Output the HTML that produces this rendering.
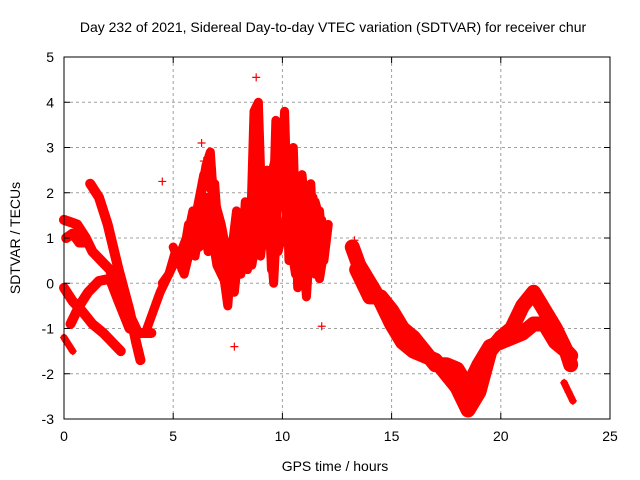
<!DOCTYPE html>
<html><head><meta charset="utf-8"><style>
body{margin:0;background:#fff}
svg{display:block;font-family:"Liberation Sans",sans-serif}
</style></head><body>
<svg id="chart" width="640" height="480" viewBox="0 0 640 480">
<rect width="640" height="480" fill="#fff"/>
<text x="333" y="32" font-size="14" text-anchor="middle">Day 232 of 2021, Sidereal Day-to-day VTEC variation (SDTVAR) for receiver chur</text>
<g id="grid"></g>
<g id="series"></g>
<rect x="64" y="57" width="546" height="362" fill="none" stroke="#000" stroke-width="1"/>
<g id="axes"></g>
<text transform="translate(20,238) rotate(-90)" font-size="14" text-anchor="middle">SDTVAR / TECUs</text>
<text x="335" y="471" font-size="14" text-anchor="middle">GPS time / hours</text>
</svg>
<script>
const xTicks=[0,5,10,15,20,25];
const yTicks=[-3,-2,-1,0,1,2,3,4,5];
const trackA_t=[0,0.3,0.6,1.0,1.3,1.7,2.1,2.5,3.0,3.3];
const trackA_v=[1.4,1.35,1.3,1.0,0.7,0.5,0.3,-0.2,-0.7,-1.0];
const trackB_t=[1.2,1.6,2.0,2.5,3.0,3.3,3.5];
const trackB_v=[2.2,1.9,1.3,0.3,-0.6,-1.3,-1.7];
const trackC_t=[0.3,0.7,1.1,1.6,2.1,2.5,3.0,3.5,4.0];
const trackC_v=[-0.9,-0.5,-0.2,0.05,0.1,-0.4,-1.0,-1.1,-1.1];
const trackD_t=[0,0.4,0.8,1.3,1.8,2.2,2.6];
const trackD_v=[-0.1,-0.4,-0.6,-0.9,-1.1,-1.3,-1.5];
const trackE_t=[0,0.2,0.4];
const trackE_v=[-1.2,-1.35,-1.5];
const trackF_t=[0.1,0.4,0.7,1.0];
const trackF_v=[1.0,1.1,0.9,0.9];
const midA_t=[3.8,4.1,4.4,4.7,5.0,5.3,5.6,5.9,6.1,6.3,6.5,6.7,6.9,7.1,7.3,7.5,7.7,7.9,8.1,8.3,8.5,8.7,8.9,9.1,9.3,9.5,9.7,9.9,10.1,10.3,10.5,10.7,10.9,11.1,11.3,11.5,11.7,11.9,12.1];
const midA_v=[-1.0,-0.6,-0.2,0.1,0.4,0.6,0.9,1.6,1.2,2.0,2.6,2.9,1.5,1.0,0.2,-0.5,0.8,1.6,0.2,1.8,0.5,3.8,4.0,1.0,2.5,0.3,3.6,2.0,3.8,0.5,3.0,-0.1,2.4,1.2,2.2,0.2,1.6,0.5,1.3];
const midB_t=[4.5,4.8,5.1,5.4,5.7,6.0,6.3,6.6,6.9,7.2,7.5,7.8,8.1,8.4,8.7,9.0,9.3,9.6,9.9,10.2,10.5,10.8,11.1,11.4,11.7,12.0];
const midB_v=[0.0,0.2,0.7,0.4,1.3,0.6,1.5,0.7,2.2,0.2,0.9,-0.2,1.2,0.3,2.7,0.6,1.9,0.0,2.9,1.5,0.8,1.7,-0.3,1.9,0.1,1.0];
const midC_t=[5.0,5.5,6.0,6.5,7.0,7.5,8.0,8.5,9.0,9.5,10.0,10.5,11.0,11.5,12.0];
const midC_v=[0.8,0.2,1.2,1.9,0.4,-0.1,0.5,1.2,2.3,1.4,2.8,1.5,0.6,1.8,0.9];
const midD_t=[5.2,5.6,6.0,6.4,6.8,7.2,7.6,8.0,8.4,8.8,9.2,9.6,10.0,10.4,10.8,11.2,11.6];
const midD_v=[0.5,1.0,1.4,2.4,2.0,1.3,0.3,0.9,0.6,3.2,1.8,2.6,3.3,2.2,1.6,1.4,0.8];
const midE_t=[5.4,5.8,6.2,6.6,7.0,7.4,7.8,8.2,8.6,9.0,9.4,9.8,10.2,10.6,11.0,11.4,11.8];
const midE_v=[0.3,0.7,0.8,1.2,1.0,0.0,0.6,0.5,0.4,1.5,0.8,0.7,1.5,0.2,1.0,0.4,1.4];
const rightA_t=[13.2,13.5,14.0,14.5,15.0,15.5,16.0,16.5,17.0,17.5,18.0,18.5,19.0,19.5,20.0,20.5,21.0,21.5,22.0,22.5,23.0,23.2];
const rightA_v=[0.8,0.4,0.0,-0.4,-0.9,-1.3,-1.5,-1.6,-1.7,-2.0,-2.3,-2.8,-2.4,-1.5,-1.2,-1.0,-0.5,-0.2,-0.6,-1.0,-1.5,-1.6];
const rightB_t=[13.4,14.0,14.5,15.0,15.5,16.0,16.5,17.0,17.5,18.0,18.5,19.0,19.5,20.0,20.5,21.0,21.5,22.0,22.5,23.0,23.2];
const rightB_v=[0.3,-0.3,-0.3,-0.6,-1.0,-1.2,-1.5,-1.8,-1.8,-1.9,-2.3,-1.8,-1.4,-1.3,-1.2,-1.1,-0.9,-0.9,-1.3,-1.5,-1.8];
const rightC_t=[22.9,23.1,23.3];
const rightC_v=[-2.2,-2.4,-2.6];
const outlierT=[8.8,6.3,6.4,4.5,7.8,13.3,11.8];
const outlierV=[4.55,3.1,2.7,2.25,-1.4,0.95,-0.95];

const X0=64,X1=610,Y0=419,Y1=57;
const xs=t=>X0+(t-0)/25*(X1-X0);
const ys=v=>Y0-(v+3)/8*(Y0-Y1);
const NS="http://www.w3.org/2000/svg";
const grid=document.getElementById('grid'),axes=document.getElementById('axes'),ser=document.getElementById('series');
function mk(tag,attrs,parent){const e=document.createElementNS(NS,tag);for(const k in attrs)e.setAttribute(k,attrs[k]);parent.appendChild(e);return e;}
xTicks.forEach(t=>{
  const x=xs(t);
  if(t>0&&t<25){const g=mk('line',{x1:x,x2:x,y1:Y1,y2:Y0,stroke:'#a0a0a0','stroke-dasharray':'3,3'},grid);
  
  }
  mk('line',{x1:x,x2:x,y1:Y0,y2:Y0-6,stroke:'#000'},axes);
  mk('line',{x1:x,x2:x,y1:Y1,y2:Y1+6,stroke:'#000'},axes);
  const l=mk('text',{x:x,y:Y0+22,'font-size':14,'text-anchor':'middle'},axes);l.textContent=t;
  
  
});
yTicks.forEach(v=>{
  const y=ys(v);
  if(v>-3&&v<5){const g=mk('line',{x1:X0,x2:X1,y1:y,y2:y,stroke:'#a0a0a0','stroke-dasharray':'3,3'},grid);
  
  }
  mk('line',{x1:X0,x2:X0+6,y1:y,y2:y,stroke:'#000'},axes);
  mk('line',{x1:X1,x2:X1-6,y1:y,y2:y,stroke:'#000'},axes);
  const l=mk('text',{x:X0-10,y:y+5,'font-size':14,'text-anchor':'end'},axes);l.textContent=v;
  
  
});
function track(T,V,w,name){
  const pts=T.map((t,i)=>xs(t)+','+ys(V[i])).join(' ');
  const p=mk('polyline',{points:pts,fill:'none',stroke:'#ff0000','stroke-width':w,'stroke-linejoin':'round','stroke-linecap':'round'},ser);
  
  
  plus(T,V,name+'-marker');
}
function plus(T,V,name){
  T.forEach((t,i)=>{const x=xs(t),y=ys(V[i]);
    const m=mk('path',{d:`M${x-4},${y}h8M${x},${y-4}v8`,stroke:'#ff0000','stroke-width':1.2},ser);
    
    });
}
track(trackA_t,trackA_v,10,'track-a');
track(trackB_t,trackB_v,10,'track-b');
track(trackC_t,trackC_v,10,'track-c');
track(trackD_t,trackD_v,10,'track-d');
track(trackE_t,trackE_v,7,'track-e');
track(trackF_t,trackF_v,10,'track-f');
track(midA_t,midA_v,9,'mid-track-a');
track(midB_t,midB_v,9,'mid-track-b');
track(midC_t,midC_v,9,'mid-track-c');
track(midD_t,midD_v,9,'mid-track-d');
track(midE_t,midE_v,9,'mid-track-e');
track(rightA_t,rightA_v,15,'right-track-a');
track(rightB_t,rightB_v,15,'right-track-b');
track(rightC_t,rightC_v,7,'right-track-c');
plus(outlierT,outlierV,'outlier-marker');
</script>
</body></html>
